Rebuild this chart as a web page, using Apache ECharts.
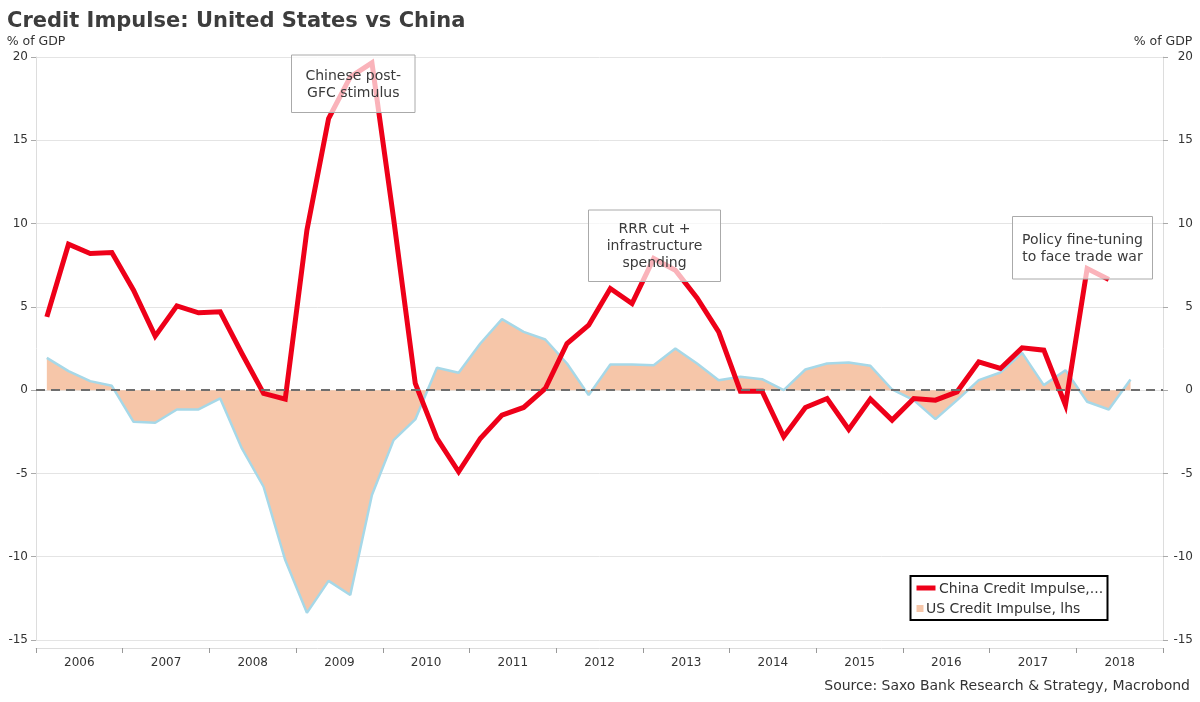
<!DOCTYPE html>
<html>
<head>
<meta charset="utf-8">
<script src="https://cdn.jsdelivr.net/npm/echarts@6/dist/echarts.min.js"></script>
<style>
  html, body { margin: 0; padding: 0; background: #fff; }
  #chart { width: 1200px; height: 702px; }
</style>
</head>
<body>
<div id="chart"></div>
<script>
// ---- Data ----
const years = ['2006','2007','2008','2009','2010','2011','2012','2013','2014','2015','2016','2017','2018'];
const quarterNames = ['Q1','Q2','Q3','Q4'];
// China credit impulse, % of GDP (rhs), quarterly 2006Q1 - 2018Q2
const chinaImpulse = [4.4, 8.76, 8.2, 8.26, 6.0, 3.24, 5.06, 4.64, 4.7, 2.2, -0.2, -0.54,
  9.6, 16.3, 18.8, 19.65, 10.3, 0.4, -2.9, -4.9, -2.9, -1.5, -1.04, 0.1,
  2.8, 3.9, 6.1, 5.2, 7.9, 7.2, 5.54, 3.5, -0.06, -0.06, -2.8, -1.04,
  -0.5, -2.36, -0.54, -1.8, -0.5, -0.6, -0.1, 1.7, 1.3, 2.54, 2.4, -0.9, 7.3, 6.64];
// US credit impulse, % of GDP (lhs), quarterly 2006Q1 - 2018Q3
const usImpulse = [1.94, 1.14, 0.54, 0.26, -1.9, -1.96, -1.16, -1.16, -0.5, -3.5,
  -5.8, -10.2, -13.37, -11.45, -12.3, -6.3, -3.0, -1.76, 1.34, 1.04,
  2.8, 4.26, 3.5, 3.04, 1.6, -0.3, 1.54, 1.54, 1.5, 2.5,
  1.6, 0.6, 0.8, 0.66, 0.0, 1.24, 1.6, 1.66, 1.46, 0.04,
  -0.6, -1.74, -0.6, 0.6, 1.06, 2.24, 0.3, 1.2, -0.7, -1.16, 0.64];
const yTicks = { min: -15, max: 20, interval: 5 };
const titleText = 'Credit Impulse: United States vs China';
const unitText = '% of GDP';
const sourceText = 'Source: Saxo Bank Research & Strategy, Macrobond';
const chinaName = 'China Credit Impulse,...';
const usName = 'US Credit Impulse, lhs';
const notes = [
  ['Chinese post-', 'GFC stimulus'],
  ['RRR cut +', 'infrastructure', 'spending'],
  ['Policy fine-tuning', 'to face trade war']
];

// quarterly categories built from the year list
const quarters = [];
years.forEach(y => quarterNames.forEach(q => quarters.push(y + q)));

const FONT = '"DejaVu Sans", Verdana, sans-serif';
const TXT = '#333333';

function noteBox(x, y, w, h, lines) {
  const lh = 17;
  const cy = y + h / 2 + 1;
  const start = cy - (lines.length - 1) * lh / 2;
  const els = [{
    type: 'rect', z: 100,
    shape: { x: x, y: y, width: w, height: h },
    style: { fill: 'rgba(255,255,255,0.7)', stroke: '#aaaaaa', lineWidth: 1 }
  }];
  lines.forEach((t, i) => {
    els.push({
      type: 'text', z: 101,
      style: { text: t, x: x + w / 2, y: start + i * lh, align: 'center', verticalAlign: 'middle',
               font: '14px ' + FONT, fill: '#3a3a3a' }
    });
  });
  return els;
}

const chart = echarts.init(document.getElementById('chart'), null, { renderer: 'canvas' });

const yAxisCommon = {
  type: 'value',
  min: yTicks.min, max: yTicks.max, interval: yTicks.interval,
  name: unitText,
  nameLocation: 'end',
  nameGap: 9,
  nameTextStyle: { color: TXT, fontSize: 12.5, fontFamily: FONT, align: 'center' },
  axisLine: { show: true, lineStyle: { color: '#dddddd', width: 1 } },
  axisTick: { show: true, length: 5, lineStyle: { color: '#aaaaaa' } },
  axisLabel: { color: TXT, fontSize: 12, fontFamily: FONT }
};

const option = {
  animation: false,
  backgroundColor: '#ffffff',
  title: {
    text: titleText,
    left: 7, top: 11, padding: 0,
    textStyle: { fontFamily: FONT, fontSize: 21, fontWeight: 'bold', color: '#3d3d3d' }
  },
  grid: { left: 36, right: 37, top: 57, bottom: 62, containLabel: false },
  xAxis: [
    {
      type: 'category', data: years, boundaryGap: true, position: 'bottom', offset: 8,
      axisLine: { show: true, onZero: false, lineStyle: { color: '#dddddd' } },
      axisTick: { show: true, length: 5, lineStyle: { color: '#999999' } },
      axisLabel: { color: TXT, fontSize: 12, fontFamily: FONT, margin: 9 },
      splitLine: { show: false }
    },
    {
      type: 'category', data: quarters, boundaryGap: true, show: false,
      axisLine: { onZero: false }
    }
  ],
  yAxis: [
    Object.assign({}, yAxisCommon, {
      position: 'left',
      axisLabel: Object.assign({}, yAxisCommon.axisLabel, { margin: 8 }),
      splitLine: { show: true, lineStyle: { color: '#e4e4e4', width: 1 } }
    }),
    Object.assign({}, yAxisCommon, {
      position: 'right',
      axisLabel: Object.assign({}, yAxisCommon.axisLabel, { margin: 30, align: 'right' }),
      splitLine: { show: false }
    })
  ],
  series: [
    {
      name: usName, type: 'line', xAxisIndex: 1, yAxisIndex: 0, data: usImpulse,
      symbol: 'none', z: 2,
      lineStyle: { color: '#a6d8e8', width: 2.5 },
      areaStyle: { color: '#f6c6a9', opacity: 1 },
      markLine: {
        silent: true, symbol: 'none',
        label: { show: false },
        lineStyle: { color: '#6e6e6e', type: [9, 6], width: 2 },
        data: [{ yAxis: 0 }]
      }
    },
    {
      name: chinaName, type: 'line', xAxisIndex: 1, yAxisIndex: 1, data: chinaImpulse,
      symbol: 'none', z: 3,
      lineStyle: { color: '#ee0019', width: 5, join: 'miter' }
    }
  ],
  graphic: [].concat(
    noteBox(291.5, 55, 123.5, 57.5, notes[0]),
    noteBox(588.5, 210, 132, 71.5, notes[1]),
    noteBox(1012.5, 216.5, 140, 62.5, notes[2]),
    [
      { type: 'rect', z: 100, shape: { x: 910.5, y: 576, width: 197, height: 44 },
        style: { fill: '#ffffff', stroke: '#000000', lineWidth: 2 } },
      { type: 'rect', z: 101, shape: { x: 916.5, y: 585.5, width: 19, height: 5 },
        style: { fill: '#ee0019' } },
      { type: 'text', z: 101, style: { text: chinaName, x: 939, y: 589, verticalAlign: 'middle',
        font: '14px ' + FONT, fill: '#333333' } },
      { type: 'rect', z: 101, shape: { x: 916.5, y: 605, width: 7, height: 7 },
        style: { fill: '#f6c6a9' } },
      { type: 'text', z: 101, style: { text: usName, x: 926, y: 609, verticalAlign: 'middle',
        font: '14px ' + FONT, fill: '#333333' } },
      { type: 'text', z: 101, style: { text: sourceText, x: 1190, y: 686.5, align: 'right',
        verticalAlign: 'middle', font: '14px ' + FONT, fill: '#333333' } }
    ]
  )
};

chart.setOption(option);
</script>
</body>
</html>
